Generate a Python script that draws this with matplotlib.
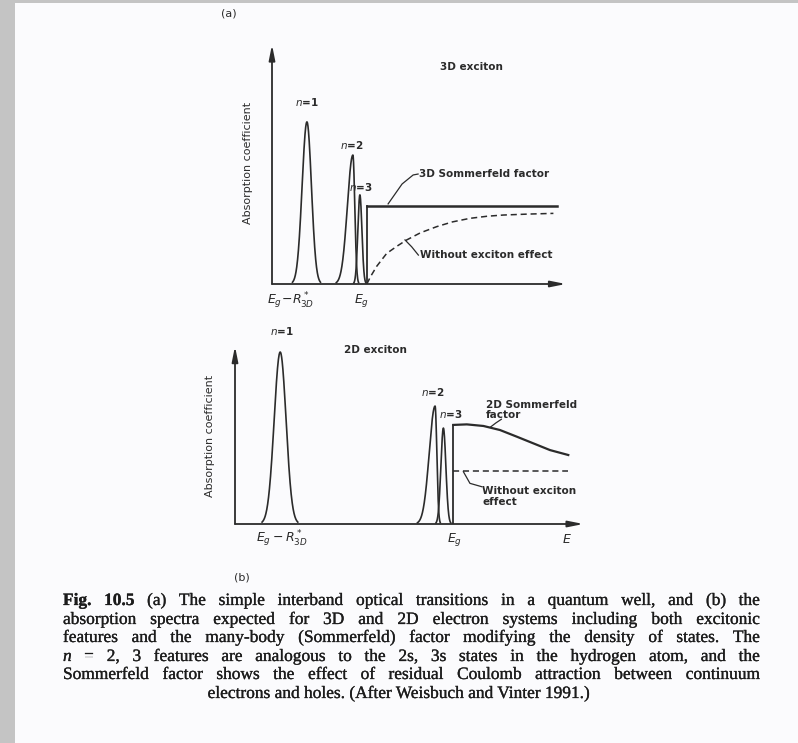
import numpy as np
import matplotlib.pyplot as plt
import matplotlib.patheffects as pe
from matplotlib.patches import Rectangle

plt.rcParams['mathtext.fontset'] = 'dejavusans'

W, H = 798, 743
INK = '#2b2b2b'

# ---- panel (a): 3D exciton (axis units 0..100) ----
a_peak_x = [12.0, 27.8, 30.2]          # n=1, n=2, n=3
a_peak_h = [68.4, 54.4, 37.6]
a_peak_wl = [1.65, 1.9, 0.7]           # left / right widths
a_peak_wr = [1.55, 0.65, 0.7]
a_eg = 32.6
a_somm_x = [32.6, 97.9]
a_somm_y = [32.9, 32.9]
a_free_x = [32.6, 33.8, 36.0, 39.4, 43.0, 46.3, 51.0, 56.6, 62.0, 68.0, 74.0, 79.5, 88.0, 96.7]
a_free_y = [0.0, 3.0, 7.5, 12.9, 16.0, 18.6, 21.6, 24.2, 26.2, 27.7, 28.6, 29.1, 29.5, 29.8]

# ---- panel (b): 2D exciton ----
b_peak_x = [13.1, 58.0, 60.4]
b_peak_h = [97.7, 67.0, 54.5]
b_peak_wl = [1.75, 1.7, 0.72]
b_peak_wr = [1.7, 0.5, 0.72]
b_eg = 63.3
b_somm_x = [63.3, 67.2, 72.0, 76.8, 81.7, 86.5, 91.3, 96.6]
b_somm_y = [56.3, 56.6, 55.7, 53.4, 49.6, 45.8, 42.0, 39.2]
b_free_x = [63.3, 96.6]
b_free_y = [30.1, 30.1]

caption = [
    "Fig. 10.5 (a) The simple interband optical transitions in a quantum well, and (b) the",
    "absorption spectra expected for 3D and 2D electron systems including both excitonic",
    "features and the many-body (Sommerfeld) factor modifying the density of states. The",
    "n = 2, 3 features are analogous to the 2s, 3s states in the hydrogen atom, and the",
    "Sommerfeld factor shows the effect of residual Coulomb attraction between continuum",
    "electrons and holes. (After Weisbuch and Vinter 1991.)",
]
caption_y = [601, 620, 638, 657, 675, 694]


def fx(px):
    return px / W


def fy(py):
    return 1 - py / H


def panel(left, top, right, bottom):
    ax = fig.add_axes([fx(left), fy(bottom), fx(right) - fx(left), (bottom - top) / H])
    ax.set_xlim(0, 100)
    ax.set_ylim(0, 100)
    ax.axis('off')
    arrow = dict(arrowstyle='-|>,head_length=0.9,head_width=0.18', color=INK, lw=1.3,
                 shrinkA=0, shrinkB=0)
    ax.annotate('', xy=(101, 0), xytext=(0, 0), arrowprops=arrow, annotation_clip=False)
    ax.annotate('', xy=(0, 101), xytext=(0, 0), arrowprops=arrow, annotation_clip=False)
    return ax


def peaks(ax, xs, hs, wl, wr):
    for c, h, sl, sr in zip(xs, hs, wl, wr):
        x = np.linspace(c - 3 * sl, c + 3 * sr, 200)
        s = np.where(x < c, sl, sr)
        ax.plot(x, h * np.exp(-0.5 * ((x - c) / s) ** 2), color=INK, lw=1.2,
                solid_joinstyle='round', clip_on=False)


fig = plt.figure(figsize=(W / 100, H / 100), dpi=100)
fig.patch.set_facecolor('#fbfbfd')
fig.patches.append(Rectangle((0, 0), fx(15), 1, transform=fig.transFigure,
                             facecolor='#c4c4c4', edgecolor='none'))
fig.patches.append(Rectangle((0, fy(2.5)), 1, 1, transform=fig.transFigure,
                             facecolor='#c4c4c4', edgecolor='none'))

lab = dict(family='DejaVu Sans', fontsize=7.5, fontweight='bold', color=INK)
small = dict(family='DejaVu Sans', fontsize=8, color=INK)
tick = dict(fontsize=9, color=INK, va='center', ha='center')

# ---------- (a) ----------
ax = panel(272, 47, 563, 284)
peaks(ax, a_peak_x, a_peak_h, a_peak_wl, a_peak_wr)
ax.plot([a_eg, a_eg], [0, a_somm_y[0]], color=INK, lw=1.3)
ax.plot(a_somm_x, a_somm_y, color=INK, lw=1.8)
ax.plot(a_free_x, a_free_y, color=INK, lw=1.1, ls=(0, (4, 2.5)))
ax.plot([39.9, 44.7, 48.5, 50.2], [33.8, 42.2, 46.0, 46.4], color=INK, lw=0.9)
ax.plot([45.7, 48.0, 50.3], [18.6, 15.7, 12.2], color=INK, lw=0.9)
ax.text(50.6, 46.4, '3D Sommerfeld factor', va='center', ha='left', **lab)
ax.text(50.9, 12.2, 'Without exciton effect', va='center', ha='left', **lab)
ax.text(68.7, 91.6, '3D exciton', va='center', ha='center', **lab)
ax.text(12.0, 76.8, '$n$=1', va='center', ha='center', **lab)
ax.text(27.5, 58.6, '$n$=2', va='center', ha='center', **lab)
ax.text(30.6, 40.9, '$n$=3', va='center', ha='center', **lab)
ax.text(6.5, -7, r'$E_g\!-\!R^*_{3D}$', **tick)
ax.text(30.9, -7, r'$E_g$', **tick)
ax.text(-8.2, 51, 'Absorption coefficient', rotation=90, va='center', ha='center', **small)

# ---------- (b) ----------
ax = panel(235, 348, 580, 524)
peaks(ax, b_peak_x, b_peak_h, b_peak_wl, b_peak_wr)
ax.plot([b_eg, b_eg], [0, b_somm_y[0]], color=INK, lw=1.3)
ax.plot(b_somm_x, b_somm_y, color=INK, lw=1.6)
ax.plot(b_free_x, b_free_y, color=INK, lw=1.1, ls=(0, (4, 2.5)))
ax.plot([74.0, 75.6, 77.2], [55.0, 57.4, 59.5], color=INK, lw=0.9)
ax.plot([66.2, 68.1, 71.5], [29.7, 23.1, 21.2], color=INK, lw=0.9)
ax.text(72.8, 64.8, '2D Sommerfeld\nfactor', va='center', ha='left', linespacing=1.05, **lab)
ax.text(71.6, 15.6, 'Without exciton\neffect', va='center', ha='left', linespacing=1.05, **lab)
ax.text(40.6, 98.9, '2D exciton', va='center', ha='center', **lab)
ax.text(13.6, 109.7, '$n$=1', va='center', ha='center', **lab)
ax.text(57.4, 75.0, '$n$=2', va='center', ha='center', **lab)
ax.text(62.6, 62.5, '$n$=3', va='center', ha='center', **lab)
ax.text(13.6, -8.5, r'$E_g - R^*_{3D}$', **tick)
ax.text(63.5, -9, r'$E_g$', **tick)
ax.text(96.2, -9, r'$E$', **tick)
ax.text(-7.2, 50, 'Absorption coefficient', rotation=90, va='center', ha='center', **small)

fig.text(fx(229), fy(13), '(a)', va='center', ha='center', **small)
fig.text(fx(242), fy(577), '(b)', va='center', ha='center', **small)

# ---------- caption, justified ----------
cap = dict(family='Liberation Serif', fontsize=12.5, color='#1c1c1c', va='center',
           path_effects=[pe.withStroke(linewidth=0.2, foreground='#1c1c1c')])
renderer = fig.canvas.get_renderer()
x0, x1 = 63, 760
for i, (line, py) in enumerate(zip(caption, caption_y)):
    if i == len(caption) - 1:
        fig.text(0.5, fy(py), line, ha='center', **cap)
        continue
    words = line.split()
    objs = []
    for j, w in enumerate(words):
        style = dict(cap)
        if i == 0 and j < 2:
            style['fontweight'] = 'bold'
        if i == 3 and j == 0:
            style['fontstyle'] = 'italic'
        objs.append(fig.text(0, fy(py), w, ha='left', **style))
    widths = [o.get_window_extent(renderer).width for o in objs]
    gap = (x1 - x0 - sum(widths)) / (len(words) - 1)
    x = x0
    for o, wd in zip(objs, widths):
        o.set_x(fx(x))
        x += wd + gap

fig.savefig('out.png', dpi=100, facecolor=fig.get_facecolor())
